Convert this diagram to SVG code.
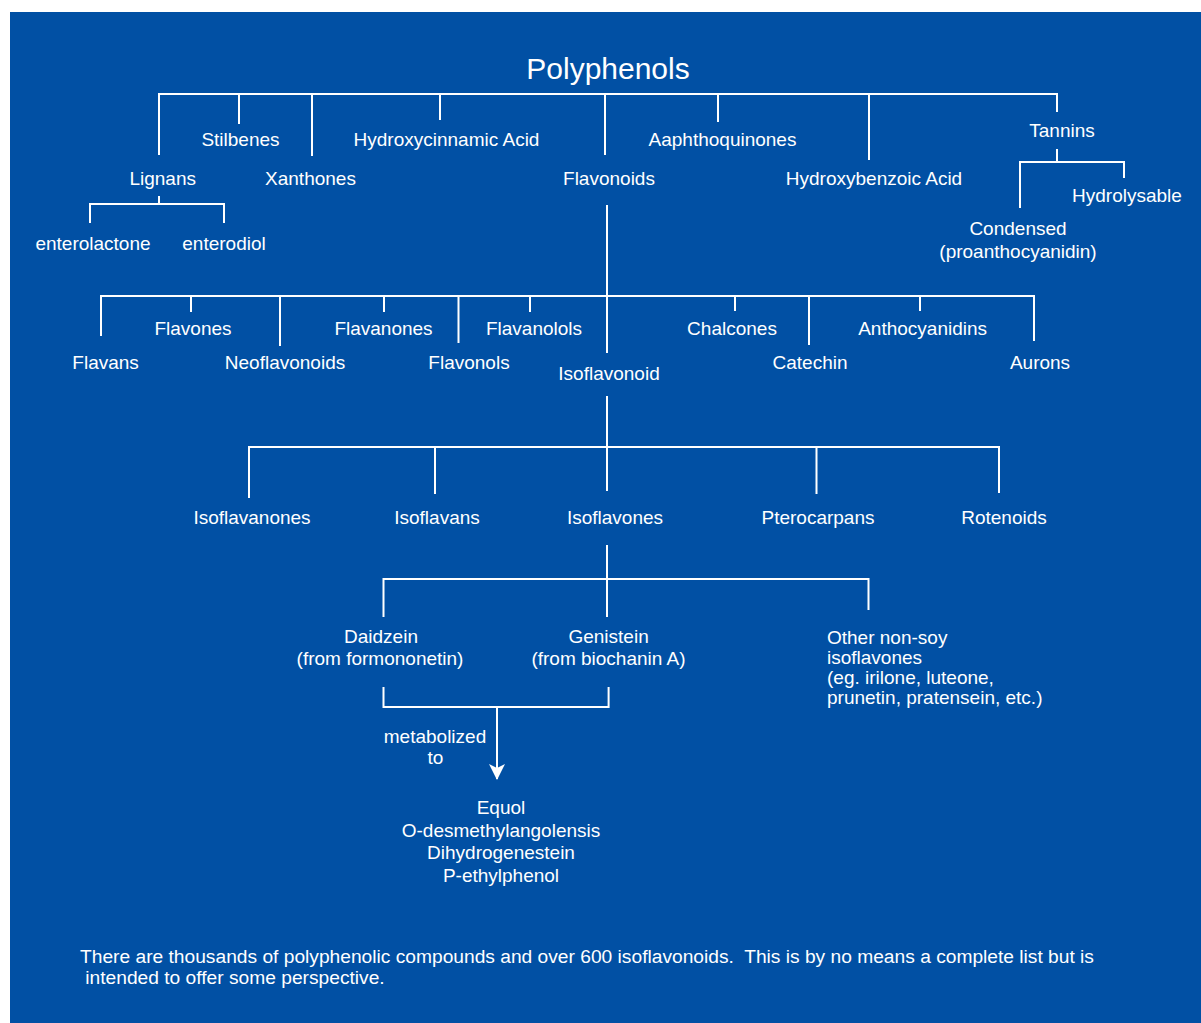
<svg xmlns="http://www.w3.org/2000/svg" width="1201" height="1023" viewBox="0 0 1201 1023">
<style>
text{font-family:"Liberation Sans",Arial,Helvetica,sans-serif;font-size:19px;fill:#ffffff;text-anchor:middle}
.title{font-size:30px}
.left{text-anchor:start}
.pre{white-space:pre}
.foot{font-size:19.2px}
.c{fill:none;stroke:#ffffff;stroke-width:2;stroke-linejoin:miter}
</style>
<defs>
<marker id="arrow" viewBox="0 0 16 16" markerWidth="16" markerHeight="16" markerUnits="userSpaceOnUse" orient="auto" refX="15" refY="8">
<path d="M0,0 L16,8 L0,16 L4,8 Z" fill="#ffffff"/>
</marker>
</defs>
<rect x="0" y="0" width="1201" height="1023" fill="#ffffff"/>
<rect x="10" y="12" width="1191" height="1011" fill="#0150A4"/>

<g id="connectors">
<path class="c" d="M159,155 V94 H1057 V112"/>
<path class="c" d="M239,94 V124 M312,94 V156 M440,94 V120 M605,94 V155 M718,94 V122 M869,94 V160"/>
<path class="c" d="M159,196 V204 M90,223 V204 H224 V223"/>
<path class="c" d="M1057,149 V162 M1020,208 V162 H1124 V178"/>
<path class="c" d="M607,205 V353"/>
<path class="c" d="M101,336 V296 H1034 V341"/>
<path class="c" d="M191,296 V312 M280,296 V346 M384,296 V312 M458.5,296 V343 M530,296 V312 M735,296 V311 M809,296 V345 M920,296 V311"/>
<path class="c" d="M607,396 V491"/>
<path class="c" d="M249,498 V447 H999 V493"/>
<path class="c" d="M435,447 V494 M816.5,447 V494"/>
<path class="c" d="M607,545 V617"/>
<path class="c" d="M383.5,617 V579 H868.5 V610"/>
<path class="c" d="M383.5,687 V707 H608.6 V687"/>
<path class="c" d="M497,707 V779" marker-end="url(#arrow)"/>
</g>

<g id="polyphenols"><text class="title" x="608" y="79">Polyphenols</text></g>
<g id="stilbenes"><text x="240.5" y="146">Stilbenes</text></g>
<g id="hydroxycinnamic"><text x="446.5" y="146">Hydroxycinnamic Acid</text></g>
<g id="aaphthoquinones"><text x="722.5" y="146">Aaphthoquinones</text></g>
<g id="tannins"><text x="1062" y="137">Tannins</text></g>
<g id="lignans"><text x="162.7" y="185">Lignans</text></g>
<g id="xanthones"><text x="310.5" y="185">Xanthones</text></g>
<g id="flavonoids"><text x="609" y="185">Flavonoids</text></g>
<g id="hydroxybenzoic"><text x="874" y="185">Hydroxybenzoic Acid</text></g>
<g id="hydrolysable"><text x="1127" y="202">Hydrolysable</text></g>
<g id="condensed"><text x="1018" y="235">Condensed</text><text x="1018" y="258">(proanthocyanidin)</text></g>
<g id="enterolactone"><text x="93" y="250">enterolactone</text></g>
<g id="enterodiol"><text x="224" y="250">enterodiol</text></g>

<g id="flavones"><text x="193" y="335">Flavones</text></g>
<g id="flavanones"><text x="383.5" y="335">Flavanones</text></g>
<g id="flavanolols"><text x="534" y="335">Flavanolols</text></g>
<g id="chalcones"><text x="732" y="335">Chalcones</text></g>
<g id="anthocyanidins"><text x="922.6" y="335">Anthocyanidins</text></g>
<g id="flavans"><text x="105.6" y="369">Flavans</text></g>
<g id="neoflavonoids"><text x="285" y="369">Neoflavonoids</text></g>
<g id="flavonols"><text x="469" y="369">Flavonols</text></g>
<g id="catechin"><text x="810" y="369">Catechin</text></g>
<g id="aurons"><text x="1040" y="369">Aurons</text></g>
<g id="isoflavonoid"><text x="609" y="380">Isoflavonoid</text></g>

<g id="isoflavanones"><text x="252" y="524">Isoflavanones</text></g>
<g id="isoflavans"><text x="437" y="524">Isoflavans</text></g>
<g id="isoflavones"><text x="615" y="524">Isoflavones</text></g>
<g id="pterocarpans"><text x="818" y="524">Pterocarpans</text></g>
<g id="rotenoids"><text x="1004" y="524">Rotenoids</text></g>

<g id="daidzein"><text x="381" y="643">Daidzein</text><text x="380" y="665">(from formononetin)</text></g>
<g id="genistein"><text x="608.6" y="643">Genistein</text><text x="608.5" y="665">(from biochanin A)</text></g>
<g id="other"><text class="left" x="827" y="644">Other non-soy</text><text class="left" x="827" y="664">isoflavones</text><text class="left" x="827" y="684">(eg. irilone, luteone,</text><text class="left" x="827" y="704">prunetin, pratensein, etc.)</text></g>

<g id="metabolized"><text x="435" y="742.5">metabolized</text><text x="435.5" y="764">to</text></g>
<g id="metabolites"><text x="501" y="814">Equol</text><text x="501" y="837">O-desmethylangolensis</text><text x="501" y="859">Dihydrogenestein</text><text x="501" y="882">P-ethylphenol</text></g>

<g id="footnote"><text class="left pre foot" x="80" y="963">There are thousands of polyphenolic compounds and over 600 isoflavonoids.  This is by no means a complete list but is</text><text class="left pre foot" x="80" y="984"> intended to offer some perspective.</text></g>
</svg>
